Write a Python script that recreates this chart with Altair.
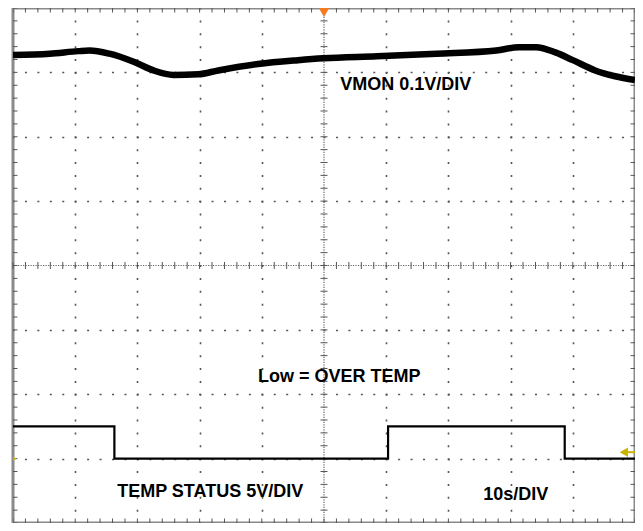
import altair as alt
import pandas as pd
import numpy as np

# ---- data (x in seconds, 10 s/div; y in divisions, 0 = bottom of screen) ----
vmon_t = [0, 5.9, 10.5, 12.3, 15.5, 19.5, 22.6, 25.8, 29.8, 33.0, 39.4, 45.8,
          49.9, 58.5, 68.1, 77.7, 81.3, 84.1, 87.2, 90.0, 93.6, 96.8, 100]
vmon_v = [7.27, 7.29, 7.33, 7.34, 7.29, 7.16, 7.03, 6.96, 6.97, 7.03, 7.13, 7.19,
          7.22, 7.25, 7.29, 7.34, 7.39, 7.39, 7.31, 7.19, 7.03, 6.94, 6.88]

temp_t = [0, 16.3, 60.3, 88.7, 100]
temp_v = [1.50, 1.00, 1.50, 1.00, 1.00]

labels = ["VMON 0.1V/DIV", "Low = OVER TEMP", "TEMP STATUS 5V/DIV", "10s/DIV"]
label_t = [52.6, 39.4, 16.75, 75.6]
label_v = [6.80, 2.27, 0.48, 0.44]

x_grid = [10, 20, 30, 40, 60, 70, 80, 90]
y_grid = [1, 2, 3, 5, 6, 7]
x_minor = list(np.arange(0, 100.001, 2))
y_minor = list(np.arange(0, 8.001, 0.2))

W, H = 622, 515
xdash = W / 50.0   # dot period along a horizontal line (1/5 div)
ydash = H / 40.0   # dot period along a vertical line (1/5 div)

xs = alt.Scale(domain=[0, 100], nice=False, zero=False)
ys = alt.Scale(domain=[0, 8], nice=False, zero=False)
xaxis = alt.Axis(values=x_grid, grid=True, labels=False, ticks=False, domain=False,
                 title=None, gridDash=[2, ydash - 2], gridDashOffset=1,
                 gridColor="#555555", gridWidth=1.6, gridOpacity=1)
yaxis = alt.Axis(values=y_grid, grid=True, labels=False, ticks=False, domain=False,
                 title=None, gridDash=[2, xdash - 2], gridDashOffset=1,
                 gridColor="#555555", gridWidth=1.6, gridOpacity=1)
X = alt.X("t:Q", scale=xs, axis=xaxis)
Y = alt.Y("v:Q", scale=ys, axis=yaxis)

vmon_df = pd.DataFrame({"t": vmon_t, "v": vmon_v})
temp_df = pd.DataFrame({"t": temp_t, "v": temp_v})
lab_df = pd.DataFrame({"t": label_t, "v": label_v, "text": labels})

# centre cross
cv = alt.Chart(pd.DataFrame({"t": [50], "v": [0], "v2": [8]})).mark_rule(
    color="#666666", strokeWidth=1.2, strokeDash=[1.2, 1.3]).encode(x=X, y=Y, y2="v2:Q")
ch = alt.Chart(pd.DataFrame({"t": [0], "t2": [100], "v": [4]})).mark_rule(
    color="#666666", strokeWidth=1.2, strokeDash=[1.2, 1.3]).encode(x=X, x2="t2:Q", y=Y)
cx_ticks = alt.Chart(pd.DataFrame({"t": x_minor, "v": [4] * len(x_minor)})).mark_tick(
    orient="vertical", size=7, thickness=1, color="#555555", opacity=1).encode(x=X, y=Y)
cy_ticks = alt.Chart(pd.DataFrame({"t": [50] * len(y_minor), "v": y_minor})).mark_tick(
    orient="horizontal", size=7, thickness=1, color="#555555", opacity=1).encode(x=X, y=Y)

# border ticks
bt = pd.DataFrame({"t": x_minor * 2, "v": [0] * len(x_minor) + [8] * len(x_minor)})
bl = pd.DataFrame({"t": [0] * len(y_minor) + [100] * len(y_minor), "v": y_minor * 2})
b_x = alt.Chart(bt).mark_tick(orient="vertical", size=9, thickness=1, color="#555555",
                              opacity=1, clip=True).encode(x=X, y=Y)
b_y = alt.Chart(bl).mark_tick(orient="horizontal", size=9, thickness=1, color="#555555",
                              opacity=1, clip=True).encode(x=X, y=Y)

vmon = alt.Chart(vmon_df).mark_line(color="black", strokeWidth=6.5,
                                    interpolate="monotone", clip=True).encode(x=X, y=Y)
temp = alt.Chart(temp_df).mark_line(color="black", strokeWidth=2.2,
                                    interpolate="step-after", clip=True).encode(x=X, y=Y)

text = alt.Chart(lab_df).mark_text(
    font="Liberation Sans", fontWeight="bold", fontSize=18, baseline="middle",
    align="left", color="black").encode(x=X, y=Y, text="text:N")

trig = alt.Chart(pd.DataFrame({"t": [50], "v": [7.93]})).mark_point(
    shape="triangle-down", filled=True, color="#f47b20", size=110, opacity=1,
    clip=True).encode(x=X, y=Y)
gnd = alt.Chart(pd.DataFrame({"t": [98.2], "v": [1.10]})).mark_point(
    shape="triangle-left", filled=True, color="#c8b400", size=90, opacity=1,
    clip=True).encode(x=X, y=Y)
gnd_line = alt.Chart(pd.DataFrame({"t": [98.2], "t2": [100], "v": [1.10]})).mark_rule(
    color="#c8b400", strokeWidth=2, clip=True).encode(x=X, x2="t2:Q", y=Y)
gnd_left = alt.Chart(pd.DataFrame({"t": [0.3], "v": [1.0]})).mark_point(
    shape="triangle-right", filled=True, color="#c8b400", size=18, opacity=1,
    clip=True).encode(x=X, y=Y)

chart = alt.layer(cv, ch, cx_ticks, cy_ticks, b_x, b_y, vmon, temp, text,
                  trig, gnd_line, gnd, gnd_left).properties(
    width=W, height=H, background="white",
    autosize=alt.AutoSizeParams(type="none"),
    padding={"left": 5, "top": 0, "right": 0, "bottom": 0}
).configure_view(stroke="#8a8a8a", strokeWidth=3)

chart.save("out.html", embed_options={"renderer": "svg", "actions": False})
